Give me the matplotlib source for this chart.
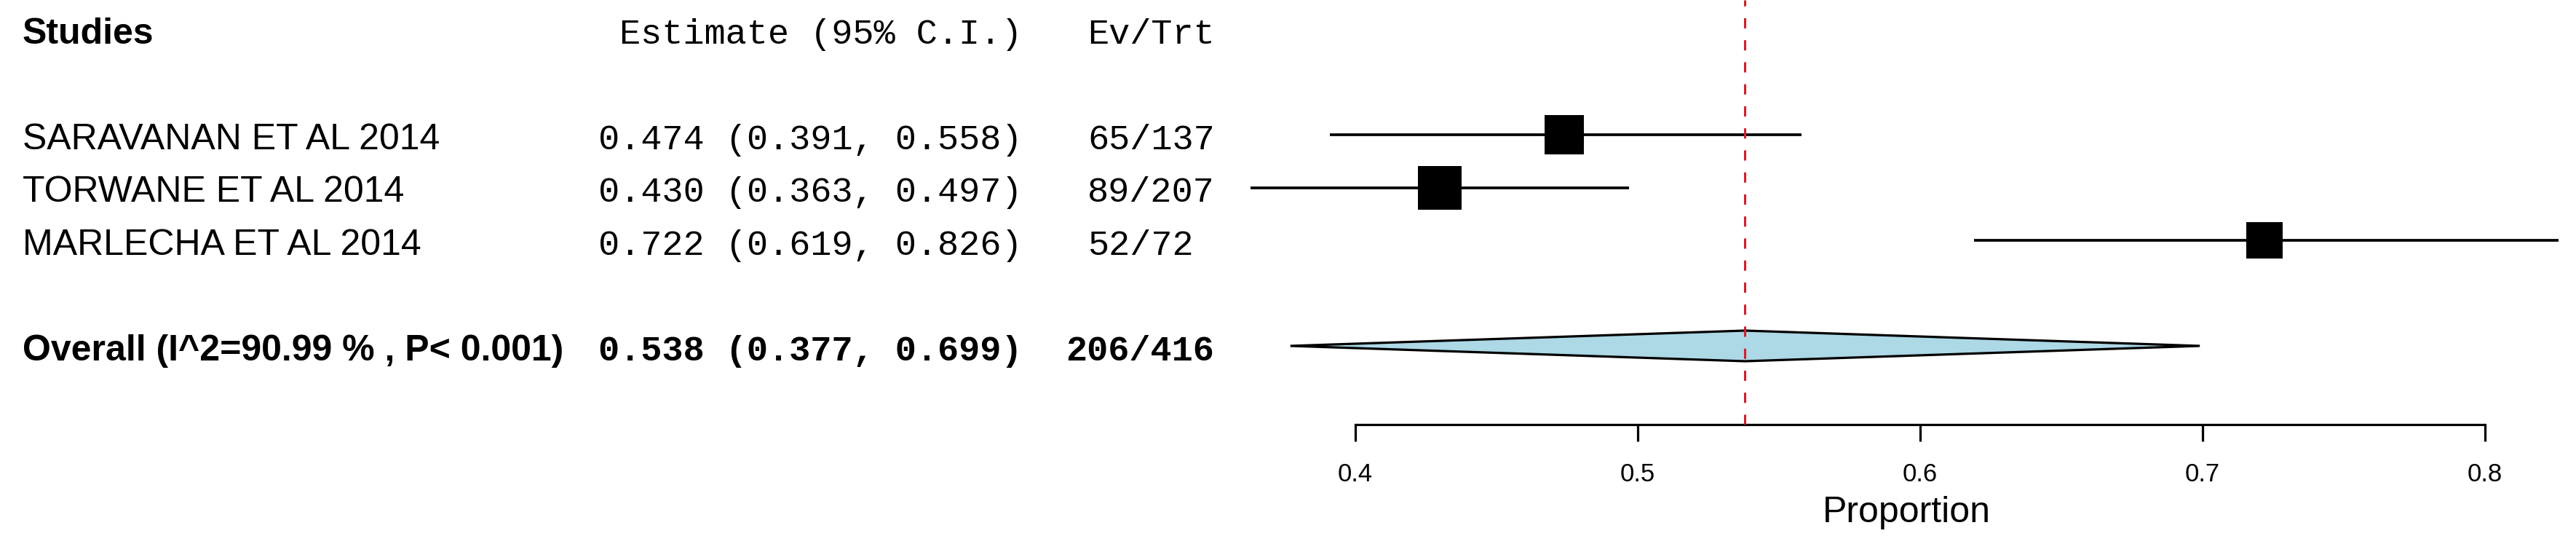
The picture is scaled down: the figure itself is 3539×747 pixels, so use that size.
import matplotlib
matplotlib.use("Agg")
import matplotlib.pyplot as plt
from matplotlib.transforms import blended_transform_factory

# study data
studies = ["SARAVANAN ET AL 2014", "TORWANE ET AL 2014", "MARLECHA ET AL 2014"]
est = [0.474, 0.430, 0.722]
ci_lo = [0.391, 0.363, 0.619]
ci_hi = [0.558, 0.497, 0.826]
events = [65, 89, 52]
totals = [137, 207, 72]

# pooled result
pooled = 0.538
pooled_lo = 0.377
pooled_hi = 0.699
i2 = 90.99
p_text = "P< 0.001"

x_ticks = [0.4, 0.5, 0.6, 0.7, 0.8]

W, H = 3539, 747
plt.rcParams['font.family'] = ['Liberation Sans', 'DejaVu Sans']
mono = ['Liberation Mono', 'DejaVu Sans Mono']

fig = plt.figure(figsize=(W / 100, H / 100), dpi=100)
ax = fig.add_axes([1862 / W, (H - 583) / H, (3414 - 1862) / W, 583 / H])
ax.set_xlim(0.4, 0.8)
ax.set_ylim(6.49, -1.552)

rows = list(range(1, len(studies) + 1))
overall_row = len(studies) + 2
header_row = -1

# box side from within-study variance (bigger study, bigger box)
var = [e * (1 - e) / n for e, n in zip(est, totals)]
box_px = [11.3 * v ** -0.25 for v in var]

ax.hlines(rows, ci_lo, ci_hi, color='black', lw=2.7, clip_on=False, zorder=2)
for r, e, s in zip(rows, est, box_px):
    ax.plot(e, r, 's', color='black', markersize=s * 0.72, markeredgewidth=0,
            clip_on=False, zorder=3)

# summary diamond
hd = 0.29
ax.fill([pooled_lo, pooled, pooled_hi, pooled],
        [overall_row, overall_row - hd, overall_row, overall_row + hd],
        facecolor='lightblue', edgecolor='black', lw=2.3, clip_on=False, zorder=3)

ax.axvline(pooled, color='#d0202c', lw=2.2, ls=(0, (4.6, 5.3)), zorder=4)

# axis styling
for side in ['top', 'left', 'right']:
    ax.spines[side].set_visible(False)
ax.spines['bottom'].set_linewidth(2.3)
ax.set_yticks([])
ax.set_xticks(x_ticks)
ax.set_xticklabels([f"{t:.1f}" for t in x_ticks])
ax.tick_params(axis='x', direction='out', length=16.5, width=2.3, pad=21, labelsize=25)
ax.set_xlabel("Proportion", fontsize=36)
ax.xaxis.set_label_coords(0.488, -0.168)

# text columns
tr = blended_transform_factory(fig.transFigure, ax.transData)
off = 0.27
name_x = 31 / W
est_x = 1404 / W
ev_x = 1494 / W

ax.text(name_x, header_row + off, "Studies", transform=tr, fontsize=36,
        fontweight='bold', va='baseline', ha='left')
ax.text(est_x, header_row + off, "Estimate (95% C.I.)", transform=tr, fontsize=35,
        family=mono, va='baseline', ha='right')
ax.text(ev_x, header_row + off, "Ev/Trt", transform=tr, fontsize=35,
        family=mono, va='baseline', ha='left')

for r, name, e, lo, hi, ev, n in zip(rows, studies, est, ci_lo, ci_hi, events, totals):
    ax.text(name_x, r + off, name, transform=tr, fontsize=36, va='baseline', ha='left')
    ax.text(est_x, r + off, f"{e:.3f} ({lo:.3f}, {hi:.3f})", transform=tr,
            fontsize=35, family=mono, va='baseline', ha='right')
    ax.text(ev_x, r + off, f"{ev}/{n}", transform=tr, fontsize=35,
            family=mono, va='baseline', ha='left')

ax.text(name_x, overall_row + off, f"Overall (I^2={i2:.2f} % , {p_text})", transform=tr,
        fontsize=36, fontweight='bold', va='baseline', ha='left')
ax.text(est_x, overall_row + off, f"{pooled:.3f} ({pooled_lo:.3f}, {pooled_hi:.3f})",
        transform=tr, fontsize=35, family=mono, fontweight='bold', va='baseline', ha='right')
ax.text(1464 / W, overall_row + off, f"{sum(events)}/{sum(totals)}", transform=tr,
        fontsize=35, family=mono, fontweight='bold', va='baseline', ha='left')

fig.savefig("out.png", dpi=100)
